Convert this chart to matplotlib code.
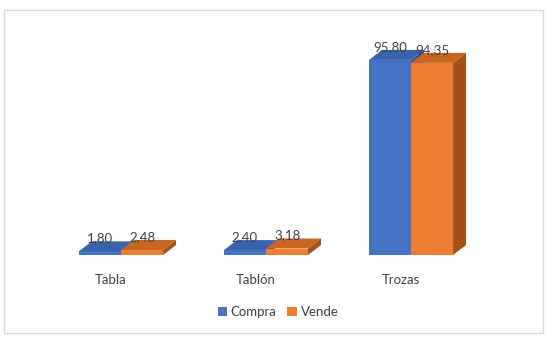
import numpy as np
import matplotlib
matplotlib.use("Agg")
import matplotlib.pyplot as plt
from matplotlib.patches import Polygon, Rectangle, Patch

plt.rcParams['font.family'] = ['Lato', 'DejaVu Sans']

categories = ['Tabla', 'Tablón', 'Trozas']
compra = [1.80, 2.40, 95.80]
vende = [2.48, 3.18, 94.35]
series_names = ['Compra', 'Vende']

# colours: front, top, side
blue = ('#4472C4', '#3A63AE', '#2F5597')
orange = ('#ED7D31', '#C8651F', '#A0521A')
text_col = '#404040'

W, H = 556, 339
fig = plt.figure(figsize=(W / 100, H / 100), dpi=100)
ax = fig.add_axes([48.5 / W, 84 / H, 435 / W, 224 / H])
ax.set_xlim(-0.5, 2.5)
ax.set_ylim(0, 110)
for s in ax.spines.values():
    s.set_visible(False)
ax.set_yticks([])

bw = 0.29
# depth of the 3d boxes in pixels -> data units
dx_px, dy_px = 13, 10
dx = dx_px * 3.0 / 435
dy = dy_px * 110.0 / 224


def box(ax, left, h, cols):
    r = left + bw
    ax.add_patch(Rectangle((left, 0), bw, h, facecolor=cols[0], edgecolor='none', zorder=2))
    ax.add_patch(Polygon([(r, 0), (r + dx, dy), (r + dx, h + dy), (r, h)],
                         closed=True, facecolor=cols[2], edgecolor='none', zorder=2))
    ax.add_patch(Polygon([(left, h), (r, h), (r + dx, h + dy), (left + dx, h + dy)],
                         closed=True, facecolor=cols[1], edgecolor='none', zorder=2))


x = np.arange(len(categories))
for i in x:
    box(ax, i - bw, compra[i], blue)
    box(ax, i, vende[i], orange)
    for xc, v in ((i - bw / 2, compra[i]), (i + bw / 2, vende[i])):
        ax.text(xc, v + dy - 1.5, f'{v:.2f}'.replace('.', ','), ha='center', va='bottom',
                fontsize=9.5, color=text_col)

ax.set_xticks(x - 0.07)
ax.set_xticklabels(categories, fontsize=9.5, color=text_col)
ax.tick_params(axis='x', length=0, pad=14)

handles = [Patch(facecolor=blue[0], label=series_names[0]),
           Patch(facecolor=orange[0], label=series_names[1])]
leg = fig.legend(handles=handles, loc='center', bbox_to_anchor=(278 / W, (H - 312) / H),
                 ncol=2, frameon=False, fontsize=9.5, handlelength=0.7, handleheight=0.7,
                 handletextpad=0.3, columnspacing=0.8)
for t in leg.get_texts():
    t.set_color(text_col)

fig.patches.append(Rectangle((4 / W, (H - 333) / H), 539 / W, 323 / H, transform=fig.transFigure,
                             facecolor='none', edgecolor='#D9D9D9', linewidth=1))

fig.savefig('out.png', dpi=100)
